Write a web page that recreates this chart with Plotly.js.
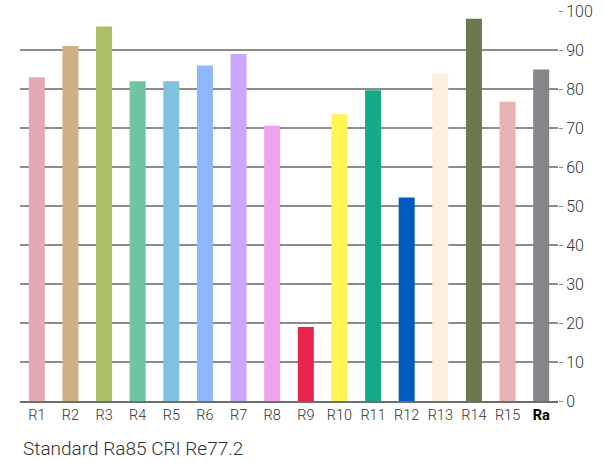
<!DOCTYPE html>
<html>
<head>
<meta charset="utf-8">
<script src="https://cdn.plot.ly/plotly-3.0.1.min.js"></script>
<style>html,body{margin:0;padding:0;background:#fff;}#chart{width:605px;height:462px;}</style>
</head>
<body>
<div id="chart"></div>
<script>
const categories = ['R1','R2','R3','R4','R5','R6','R7','R8','R9','R10','R11','R12','R13','R14','R15','Ra'];
const tickLabels = ['R1','R2','R3','R4','R5','R6','R7','R8','R9','R10','R11','R12','R13','R14','R15','<b style="color:#000">Ra</b>'];
const values = [83, 91, 96, 82, 82, 86, 89, 70.6, 19, 73.5, 79.7, 52.2, 84, 98, 76.7, 85];
const colors = ['#e5a9b1','#ceb185','#abbf64','#6fc59f','#7fc3de','#8eb8fd','#caa6fc','#eea4ec','#e8234e','#fff451','#14aa87','#005dbf','#fdeee0','#6a7a4e','#e9b1b3','#85868a'];
const yTicks = [0,10,20,30,40,50,60,70,80,90,100];
const caption = 'Standard Ra85 CRI Re77.2';

const font = {family: 'Roboto, "Liberation Sans", Arial, sans-serif', weight: 300, color: '#333'};

Plotly.newPlot('chart', [{
  type: 'bar',
  x: categories,
  y: values,
  marker: {color: colors, line: {width: 0}},
  hoverinfo: 'x+y'
}], {
  width: 605, height: 462,
  margin: {l: 20, r: 47, t: 11, b: 61},
  paper_bgcolor: '#fff', plot_bgcolor: '#fff',
  bargap: 0.524,
  showlegend: false,
  font: font,
  xaxis: {
    type: 'category',
    tickvals: categories, ticktext: tickLabels,
    showline: true, linecolor: '#6e6e6e', linewidth: 1.5,
    ticks: '', showgrid: false, zeroline: false,
    tickfont: Object.assign({}, font, {size: 14.5}),
    fixedrange: true
  },
  yaxis: {
    side: 'right',
    range: [0, 100],
    tickvals: yTicks,
    showgrid: true, gridcolor: '#8c8c8c', gridwidth: 1.2,
    zeroline: false, showline: false,
    ticks: 'outside', ticklen: 4, tickcolor: '#888', tickwidth: 1,
    tickfont: Object.assign({}, font, {size: 16}),
    fixedrange: true
  },
  annotations: [{
    xref: 'paper', yref: 'paper',
    x: 0.002, y: -0.121, xanchor: 'left', yanchor: 'middle',
    showarrow: false,
    text: caption,
    font: Object.assign({}, font, {size: 19})
  }]
}, {displayModeBar: false, staticPlot: true});
</script>
</body>
</html>
